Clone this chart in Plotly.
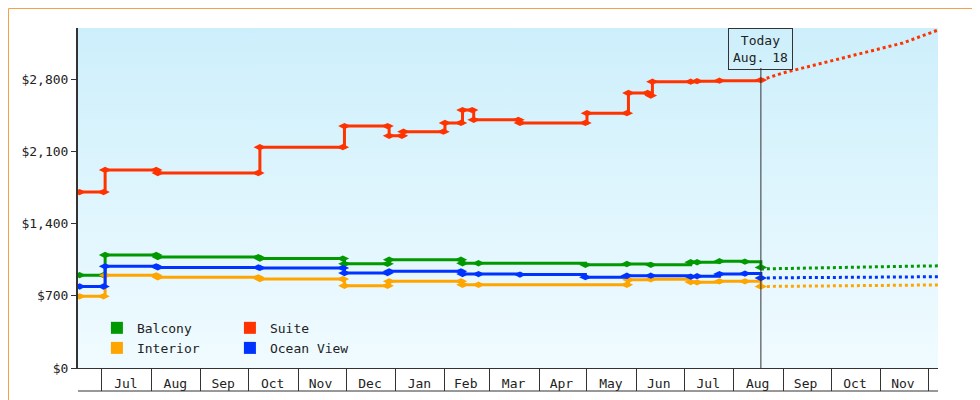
import plotly.graph_objects as go
import base64

suite_x = ["2024-06-17","2024-07-02","2024-07-03","2024-08-04","2024-08-05","2024-10-07","2024-10-08","2024-11-29","2024-11-30","2024-12-27","2024-12-28","2025-01-05","2025-01-06","2025-01-31","2025-02-01","2025-02-11","2025-02-12","2025-02-18","2025-02-19","2025-03-19","2025-03-20","2025-04-30","2025-05-01","2025-05-26","2025-05-27","2025-06-08","2025-06-10","2025-06-11","2025-07-05","2025-07-09","2025-07-23","2025-08-18"]
suite_y = [1705,1705,1920,1920,1890,1890,2140,2140,2345,2345,2250,2250,2290,2290,2375,2375,2500,2500,2405,2405,2375,2375,2470,2470,2665,2665,2640,2775,2775,2780,2785,2790]

balcony_x = ["2024-06-17","2024-07-02","2024-07-03","2024-08-04","2024-08-05","2024-10-07","2024-10-08","2024-11-29","2024-11-30","2024-12-27","2024-12-28","2025-02-11","2025-02-12","2025-02-22","2025-04-30","2025-05-26","2025-06-10","2025-07-05","2025-07-09","2025-07-23","2025-08-08","2025-08-18"]
balcony_y = [900,900,1095,1095,1075,1075,1060,1060,1010,1010,1050,1050,1015,1015,1000,1008,1000,1025,1025,1035,1030,975]

ocean_x = ["2024-06-17","2024-07-02","2024-07-03","2024-08-04","2024-08-05","2024-10-07","2024-10-08","2024-11-29","2024-11-30","2024-12-27","2024-12-28","2025-02-11","2025-02-12","2025-02-22","2025-03-20","2025-04-30","2025-05-26","2025-06-10","2025-07-05","2025-07-09","2025-07-23","2025-08-08","2025-08-18"]
ocean_y = [790,790,985,985,975,975,970,970,920,920,937,937,910,910,905,880,895,895,885,890,910,915,872]

interior_x = ["2024-06-17","2024-07-02","2024-07-03","2024-08-04","2024-08-05","2024-10-07","2024-10-08","2024-11-29","2024-11-30","2024-12-27","2024-12-28","2025-02-11","2025-02-12","2025-02-22","2025-05-26","2025-05-27","2025-06-10","2025-07-05","2025-07-09","2025-07-23","2025-08-08","2025-08-18"]
interior_y = [695,695,898,898,879,879,862,862,797,797,840,840,807,807,807,855,860,833,830,840,840,790]

fc_x = ["2025-08-18","2025-09-01","2025-11-15","2025-12-07"]
fc_suite = [2790,2860,3150,3275]
fc_balcony = [960,965,985,990]
fc_ocean = [872,875,882,885]
fc_interior = [790,792,800,805]

today = "2025-08-18"
y_ticks = [0,700,1400,2100,2800]
y_labels = ["$0","$700","$1,400","$2,100","$2,800"]
month_mid = ["2024-07-16","2024-08-16","2024-09-15","2024-10-16","2024-11-15","2024-12-16","2025-01-16","2025-02-14","2025-03-16","2025-04-15","2025-05-16","2025-06-15","2025-07-16","2025-08-16","2025-09-15","2025-10-16","2025-11-15"]
month_labels = ["Jul","Aug","Sep","Oct","Nov","Dec","Jan","Feb","Mar","Apr","May","Jun","Jul","Aug","Sep","Oct","Nov"]

series = [("Balcony",balcony_x,balcony_y,fc_balcony,"#009900","legend"),
          ("Suite",suite_x,suite_y,fc_suite,"#ff3300","legend"),
          ("Interior",interior_x,interior_y,fc_interior,"#ffa500","legend2"),
          ("Ocean View",ocean_x,ocean_y,fc_ocean,"#0033ff","legend2")]

fig = go.Figure()
for name, xs, ys, fc, col, lg in series:
    fig.add_trace(go.Scatter(x=xs, y=ys, mode="lines+markers", line=dict(color=col, width=3, shape="hv"),
                             marker=dict(color=col, size=9, symbol="diamond-wide"), showlegend=False, hoverinfo="skip"))
    fig.add_trace(go.Scatter(x=fc_x, y=fc, mode="lines", line=dict(color=col, width=3, dash="dot"),
                             showlegend=False, hoverinfo="skip"))
for name, xs, ys, fc, col, lg in series:
    fig.add_trace(go.Scatter(x=[None], y=[None], mode="markers", name=name, legend=lg,
                             marker=dict(color=col, size=12, symbol="square")))

svg = ('<svg xmlns="http://www.w3.org/2000/svg" width="10" height="100"><defs><linearGradient id="g" x1="0" y1="0" x2="0" y2="1">'
       '<stop offset="0" stop-color="#cdeffb"/><stop offset="1" stop-color="#f0fbff"/></linearGradient></defs>'
       '<rect width="10" height="100" fill="url(#g)"/></svg>')
uri = "data:image/svg+xml;base64," + base64.b64encode(svg.encode()).decode()

L, R, T, B = 70, 50, 20, 40
W, H = 980, 400
pw, ph = W - L - R, H - T - B
font = dict(family="DejaVu Sans Mono", size=13, color="#222")

fig.update_layout(
    width=W, height=H, margin=dict(l=L, r=R, t=T, b=B, autoexpand=False),
    paper_bgcolor="white", plot_bgcolor="rgba(0,0,0,0)", font=font,
    images=[dict(source=uri, xref="paper", yref="paper", x=0, y=1, sizex=1, sizey=1,
                 sizing="stretch", layer="below")],
    xaxis=dict(range=["2024-06-16", "2025-12-07"], type="date", tickvals=month_mid, ticktext=month_labels,
               ticks="", ticklabelstandoff=3, automargin=False,
               minor=dict(dtick="M1", tick0="2024-07-01", ticks="outside", ticklen=22, tickcolor="#333", showgrid=False),
               showgrid=False, showline=True, linecolor="#333", linewidth=1, zeroline=False),
    yaxis=dict(range=[0, 3295], tickvals=y_ticks, ticktext=y_labels, ticks="outside", ticklen=5, automargin=False,
               tickcolor="#333", showgrid=False, showline=True, linecolor="#333", linewidth=2, zeroline=False),
    legend=dict(orientation="h", x=0.022, y=0.118, xanchor="left", yanchor="middle", bgcolor="rgba(0,0,0,0)",
                font=font, entrywidth=88, itemwidth=30, tracegroupgap=0),
    legend2=dict(orientation="h", x=0.022, y=0.059, xanchor="left", yanchor="middle", bgcolor="rgba(0,0,0,0)",
                 font=font, entrywidth=88, itemwidth=30, tracegroupgap=0),
    shapes=[
        dict(type="line", xref="x", yref="paper", x0=today, x1=today, y0=0, y1=(ph - 40) / ph,
             line=dict(color="#333", width=1)),
        dict(type="line", xref="paper", yref="paper", x0=0, x1=1, y0=-23 / ph, y1=-23 / ph,
             line=dict(color="#333", width=1)),
        dict(type="rect", xref="paper", yref="paper", x0=-L / pw + 0.5 / pw, x1=1 + (R - 1) / pw,
             y0=-B / ph + 0.5 / ph, y1=1 + (T - 0.5) / ph, line=dict(color="#f5a04a", width=1)),
    ],
    annotations=[dict(x=today, xref="x", y=1, yref="paper", yanchor="top", text="Today<br>Aug. 18",
                      showarrow=False, bordercolor="#333", borderwidth=1, borderpad=4, font=font)],
)
fig.write_html("out.html")
